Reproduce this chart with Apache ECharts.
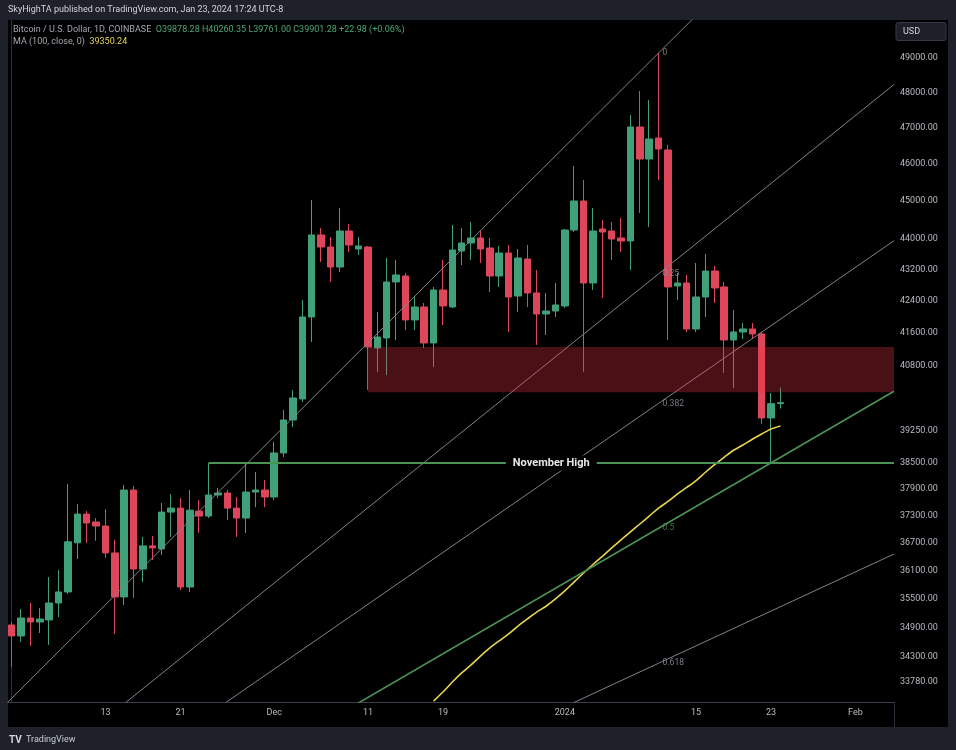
<!DOCTYPE html>
<html><head><meta charset="utf-8">
<script src="https://cdn.jsdelivr.net/npm/echarts@6/dist/echarts.min.js"></script>
<style>html,body{margin:0;padding:0;background:#1e2129;overflow:hidden}#c{width:956px;height:750px}</style>
</head><body><div id="c"></div>
<script>
// ---------- data ----------
const dates = [
'2023-11-03','2023-11-04','2023-11-05','2023-11-06','2023-11-07','2023-11-08','2023-11-09','2023-11-10','2023-11-11','2023-11-12',
'2023-11-13','2023-11-14','2023-11-15','2023-11-16','2023-11-17','2023-11-18','2023-11-19','2023-11-20','2023-11-21','2023-11-22',
'2023-11-23','2023-11-24','2023-11-25','2023-11-26','2023-11-27','2023-11-28','2023-11-29','2023-11-30',
'2023-12-01','2023-12-02','2023-12-03','2023-12-04','2023-12-05','2023-12-06','2023-12-07','2023-12-08','2023-12-09','2023-12-10',
'2023-12-11','2023-12-12','2023-12-13','2023-12-14','2023-12-15','2023-12-16','2023-12-17','2023-12-18','2023-12-19','2023-12-20',
'2023-12-21','2023-12-22','2023-12-23','2023-12-24','2023-12-25','2023-12-26','2023-12-27','2023-12-28','2023-12-29','2023-12-30','2023-12-31',
'2024-01-01','2024-01-02','2024-01-03','2024-01-04','2024-01-05','2024-01-06','2024-01-07','2024-01-08','2024-01-09','2024-01-10',
'2024-01-11','2024-01-12','2024-01-13','2024-01-14','2024-01-15','2024-01-16','2024-01-17','2024-01-18','2024-01-19','2024-01-20',
'2024-01-21','2024-01-22','2024-01-23','2024-01-24'];
const openP = [
34950,34723,35096,35013,35055,35411,35645,36704,37338,37162,
37073,36483,35539,37877,36135,36637,36571,37382,37471,35750,
37404,37294,37765,37810,37471,37250,37832,37877,
37720,38723,39492,39989,41992,44095,43780,43261,44200,43728,
43780,41223,41470,42877,43030,41917,42243,41346,42673,42243,
43676,43885,44016,43754,43030,43624,42520,43468,42597,42067,42142,
42268,44226,44997,42851,44252,44200,44016,43937,47026,46137,
46719,46386,42775,42851,41693,42495,43158,42750,41420,41618,
41693,41569,39539,39878.28];
const highP = [
35013,35282,35411,35303,35962,36113,38012,37562,37404,37250,
37448,36770,37990,37967,36834,36856,37584,37787,37697,37877,
37652,38490,37922,37877,37720,38493,38287,38102,
38978,39728,40204,42419,45024,44279,44042,44810,44385,44042,
43807,42117,43494,43442,43107,42495,42343,42750,43442,44358,
44279,44438,44226,44016,43807,43833,43728,43833,43184,42597,42851,
44252,45946,45564,44810,44491,44438,44544,47364,48045,47789,
49146,46525,43107,43056,43365,43598,43287,42877,42167,41842,
41842,41618,40132,40260.35];
const lowP = [
34086,34600,34517,34784,34537,35117,35603,36351,36704,36748,
36373,34764,35368,35518,35855,36329,36439,36834,35687,35645,
36920,37250,37697,37206,36834,36920,37494,37494,
37652,38631,39328,39918,41371,43390,42877,43133,43650,43572,
40204,40638,40565,41420,41668,41668,41223,40759,41792,42218,
43313,43442,43365,42622,42750,41618,42117,42243,41297,41544,41992,
42218,44173,40638,42673,42470,43442,43650,43184,44677,44305,
45564,41420,42419,41618,41618,41992,42343,40614,40252,41445,
41470,39398,38516,39761.00];
const closeP = [
34723,35096,35013,35075,35411,35645,36726,37338,37140,37073,
36483,35539,37877,36135,36637,36593,37382,37471,35750,37426,
37294,37765,37810,37471,37250,37832,37877,37720,
38723,39492,40013,41992,44095,43780,43261,44200,43833,43807,
41248,41494,42877,43056,41917,42243,41346,42673,42268,43702,
43885,44016,43728,43030,43624,42495,43494,42597,42067,42142,42293,
44226,44997,42851,44200,44173,43989,43937,47026,46137,46691,
46414,42750,42851,41693,42495,43158,42724,41420,41618,41693,
41569,39539,39878.30,39901.28];

const maDates = [
'2023-12-18','2023-12-19','2023-12-20','2023-12-21','2023-12-22','2023-12-23','2023-12-24','2023-12-25','2023-12-26','2023-12-27',
'2023-12-28','2023-12-29','2023-12-30','2023-12-31','2024-01-01','2024-01-02','2024-01-03','2024-01-04','2024-01-05','2024-01-06',
'2024-01-07','2024-01-08','2024-01-09','2024-01-10','2024-01-11','2024-01-12','2024-01-13','2024-01-14','2024-01-15','2024-01-16',
'2024-01-17','2024-01-18','2024-01-19','2024-01-20','2024-01-21','2024-01-22','2024-01-23','2024-01-24'];
const maValues = [
33401,33581,33782,33966,34127,34309,34474,34622,34764,34928,
35076,35219,35342,35497,35666,35860,36050,36233,36410,36593,
36770,36942,37118,37294,37471,37620,37787,37935,38090,38280,
38460,38625,38785,38908,39040,39163,39280,39350.24];

const priceTicks = [49000,48000,47000,46000,45000,44000,43200,42400,41600,40800,39250,38500,37900,37300,36700,36100,35500,34900,34300,33780];
const dateTicks = ['2023-11-13','2023-11-21','2023-12-01','2023-12-11','2023-12-19','2024-01-01','2024-01-15','2024-01-23','2024-02-01'];
const dateTickLabels = ['13','21','Dec','11','19','2024','15','23','Feb'];

const fanOrigin = ['2023-09-11', 24900];
const fanAnchor = ['2024-01-11', 49146];
const fanLevels = [0, 0.25, 0.382, 0.5, 0.618];
const zone = {from: '2023-12-11', top: 41250, bottom: 40150};
const novHigh = {from: '2023-11-24', price: 38490, label: 'November High'};

// ---------- helpers: x axis is "days since first candle" ----------
const DAY = 86400000;
const T = s => { const p = s.split('-').map(Number); return Date.UTC(p[0], p[1] - 1, p[2]); };
const t0 = T(dates[0]);
const D = s => Math.round((T(s) - t0) / DAY);
const xMin = -0.395;
const xMax = 94.11;

const UP = '#40a07a', DOWN = '#de465c', GREEN = '#4a9354', GRAY = '#80838c', MA = '#e8d54c';
const FONT = 'Roboto, "Liberation Sans", sans-serif';

const candleData = dates.map((d, i) => [D(d), openP[i], closeP[i], lowP[i], highP[i]]);
const maData = maDates.map((d, i) => [D(d), maValues[i]]);

const xO = D(fanOrigin[0]), pO = fanOrigin[1], xA = D(fanAnchor[0]), pA = fanAnchor[1];
const fanSeries = [];
const fanLabelData = [];
fanLevels.forEach(k => {
  const pk = pA - k * (pA - pO);
  const frac = (xMax - xO) / (xA - xO);
  const pe = Math.exp(Math.log(pO) + (Math.log(pk) - Math.log(pO)) * frac);
  const col = k === 0.5 ? GREEN : GRAY;
  fanSeries.push({
    type: 'line', data: [[xO, pO], [xA, pk], [xMax, pe]], symbol: 'none', silent: true,
    clip: true, z: 4, lineStyle: {color: col, width: k === 0.5 ? 1.6 : 1}
  });
  fanLabelData.push({value: [xA, pk], name: String(k), label: {color: k === 0.5 ? GREEN : '#9598a1'}});
});

const last = closeP.length - 1;
const chg = closeP[last] - closeP[last - 1];
const pct = chg / closeP[last - 1] * 100;
const sgn = v => (v >= 0 ? '+' : '') + v.toFixed(2);
const ohlcText = 'O' + openP[last].toFixed(2) + ' H' + highP[last].toFixed(2) + ' L' + lowP[last].toFixed(2) +
  ' C' + closeP[last].toFixed(2) + ' ' + sgn(chg) + ' (' + sgn(pct) + '%)';

const dateLabelMap = {};
dateTicks.forEach((d, i) => { dateLabelMap[D(d)] = dateTickLabels[i]; });

const chart = echarts.init(document.getElementById('c'), null, {renderer: 'canvas'});
chart.setOption({
  backgroundColor: '#1e2129',
  animation: false,
  textStyle: {fontFamily: FONT},
  grid: {left: 8, top: 20, right: 62, bottom: 48, containLabel: false},
  xAxis: {
    type: 'value', min: xMin, max: xMax,
    axisLine: {show: true, onZero: false, lineStyle: {color: '#3a3e48', width: 1}},
    axisTick: {show: false}, splitLine: {show: false},
    axisLabel: {
      customValues: dateTicks.map(D), color: '#b8bbc3', fontSize: 9, margin: 6, fontFamily: FONT,
      formatter: v => dateLabelMap[Math.round(v)] || ''
    }
  },
  yAxis: {
    type: 'log', logBase: 10, position: 'right', min: 33382, max: 50122,
    axisLine: {show: true, lineStyle: {color: '#2c303a', width: 1}},
    axisTick: {show: false}, splitLine: {show: false},
    axisLabel: {
      customValues: priceTicks, color: '#b8bbc3', fontSize: 9, margin: 6, fontFamily: FONT,
      formatter: v => Number(v).toFixed(2)
    }
  },
  graphic: [
    {type: 'rect', shape: {x: 8, y: 20, width: 940, height: 707}, style: {fill: '#000'}, z: -10, silent: true},
    {type: 'line', shape: {x1: 894.5, y1: 702, x2: 894.5, y2: 727}, style: {stroke: '#2c303a', lineWidth: 1}, silent: true},
    {type: 'text', x: 8, y: 10, style: {text: 'SkyHighTA published on TradingView.com, Jan 23, 2024 17:24 UTC-8',
      fill: '#d1d4dc', font: '9px ' + FONT, verticalAlign: 'middle'}, silent: true},
    {type: 'text', x: 13, y: 30, z: 20, style: {
      text: '{g|Bitcoin / U.S. Dollar, 1D, COINBASE}  {v|' + ohlcText + '}',
      verticalAlign: 'middle', font: '9px ' + FONT,
      rich: {g: {fill: '#a4a7b0', fontSize: 9, fontFamily: FONT}, v: {fill: '#4fa673', fontSize: 9, fontFamily: FONT}}}, silent: true},
    {type: 'text', x: 13, y: 42, z: 20, style: {
      text: '{g|MA (100, close, 0)}  {y|' + maValues[maValues.length - 1].toFixed(2) + '}',
      verticalAlign: 'middle', font: '9px ' + FONT,
      rich: {g: {fill: '#a4a7b0', fontSize: 9, fontFamily: FONT}, y: {fill: MA, fontSize: 9, fontFamily: FONT}}}, silent: true},
    {type: 'rect', shape: {x: 896, y: 22.5, width: 50, height: 18, r: 2}, style: {fill: '#1c1f27', stroke: '#363a45'}, z: 20, silent: true},
    {type: 'text', x: 903, y: 31.5, z: 21, style: {text: 'USD', fill: '#d1d4dc', font: '9px ' + FONT, verticalAlign: 'middle'}, silent: true},
    {type: 'text', x: 9, y: 740, style: {text: 'TV', fill: '#d1d4dc', font: 'bold 10px ' + FONT, verticalAlign: 'middle'}, silent: true},
    {type: 'text', x: 26, y: 740, style: {text: 'TradingView', fill: '#c9ccd4', font: '9px ' + FONT, verticalAlign: 'middle'}, silent: true}
  ],
  series: [
    {
      type: 'candlestick', name: 'BTCUSD', data: candleData, encode: {x: 0, y: [1, 2, 3, 4]},
      barWidth: 7, z: 2, silent: true,
      itemStyle: {color: UP, color0: DOWN, borderColor: UP, borderColor0: DOWN, borderColorDoji: UP, borderWidth: 1},
      markLine: {
        silent: true, symbol: ['none', 'none'], z: 20,
        data: [{yAxis: closeP[last]}],
        lineStyle: {opacity: 0, width: 0},
        label: {show: true, position: 'end', distance: 1, formatter: closeP[last].toFixed(2),
          backgroundColor: '#8f929a', color: '#ffffff', fontSize: 9, padding: [2, 6, 2, 5], fontFamily: FONT}
      }
    },
    {
      type: 'line', name: 'MA', data: maData, symbol: 'none', silent: true, z: 3, clip: true, smooth: 0.3,
      lineStyle: {color: MA, width: 1.6},
      markArea: {
        silent: true, z: 10,
        itemStyle: {color: 'rgba(242,54,69,0.3)'},
        data: [[{coord: [D(zone.from), zone.top]}, {coord: [xMax, zone.bottom]}]]
      },
      markLine: {
        silent: true, symbol: ['none', 'none'], z: 6,
        lineStyle: {color: GREEN, width: 2, type: 'solid'},
        label: {show: true, position: 'middle', distance: 0, verticalAlign: 'middle', formatter: novHigh.label,
          color: '#e6e7ea', fontWeight: 'bold', fontSize: 11, backgroundColor: '#000', padding: [2, 7], fontFamily: FONT},
        data: [[{coord: [D(novHigh.from), novHigh.price]}, {coord: [xMax, novHigh.price]}]]
      }
    },
    ...fanSeries,
    {
      type: 'scatter', data: fanLabelData, symbolSize: 0, silent: true, z: 6,
      label: {show: true, position: 'right', distance: 4, formatter: '{b}', fontSize: 8.5, fontFamily: FONT}
    }
  ]
});
</script>
</body></html>
